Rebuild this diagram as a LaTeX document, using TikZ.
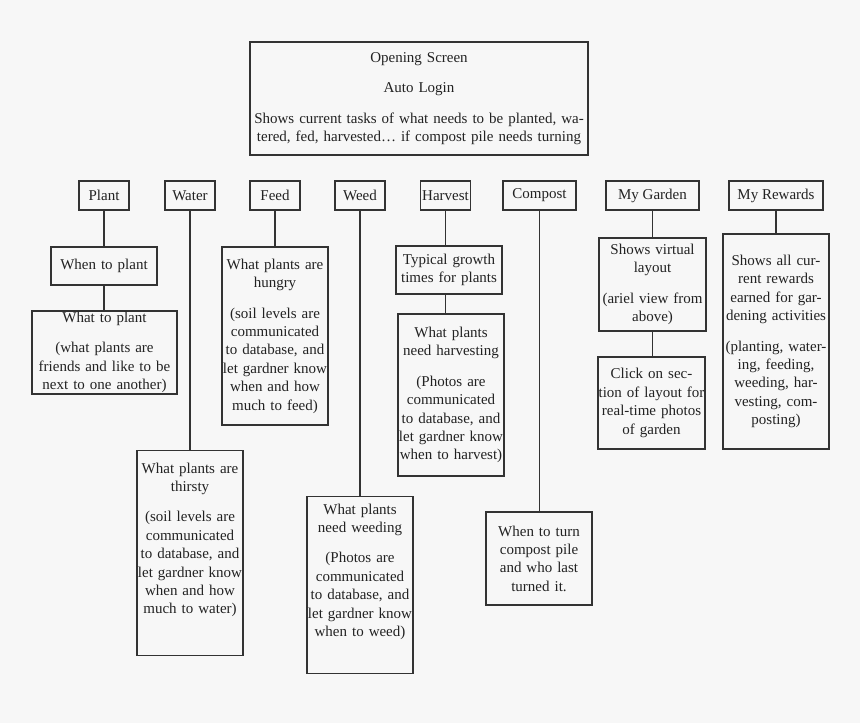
\documentclass[tikz,border=0pt]{standalone}
\usepackage{fontspec}
\setmainfont{Liberation Serif}
\definecolor{bgcol}{HTML}{F7F7F7}
\definecolor{linecol}{HTML}{333333}
\definecolor{textcol}{HTML}{222222}

\begin{document}
\begin{tikzpicture}[x=1pt,y=-1pt,
		every node/.style={font=\fontsize{15}{18.4}\selectfont, text=textcol},
		tab/.style={draw=linecol, line width=1.3pt,
			minimum width=50pt, minimum height=29pt, inner xsep=1pt},
		card/.style={draw=linecol, line width=1.3pt, align=center,
			text width=114pt, inner xsep=-4pt, inner ysep=3pt},
		link/.style={draw=linecol, line width=1.3pt}]

		\fill[bgcol] (0,0) rectangle (860,723);

		% opening screen
		\node[card, text width=346pt, minimum height=113pt] (open) at (419,98.5)
			{Opening Screen\\[12pt]
			 Auto Login\\[12pt]
			 Shows current tasks of what needs to be planted, wa-\\
			 tered, fed, harvested\ldots{} if compost pile needs turning};

		% tabs
		\node[tab] (plant) at (104,195.5) {Plant};
		\node[tab] (water) at (190,195.5) {Water};
		\node[tab] (feed) at (275,195.5) {Feed};
		\node[tab] (weed) at (360,195.5) {Weed};
		\node[tab] (harvest) at (445.5,195.5) {Harvest};
		\node[tab, minimum width=73pt] (compost) at (539.5,195.5) {Compost};
		\node[tab, minimum width=93pt] (garden) at (652.5,195.5) {My Garden};
		\node[tab, minimum width=94pt] (rewards) at (776,195.5) {My Rewards};

		% plant
		\node[card, minimum height=38pt] (whenplant) at (104,266) {When to plant};
		\node[card, text width=153pt, inner ysep=1pt, minimum height=83pt] (whatplant) at (104.5,352.5)
			{What to plant\\[12pt](what plants are\\friends and like to be\\next to one another)};

		% water
		\node[card, anchor=north, text height=19.5pt, text depth=179.5pt] (thirsty) at (190,450)
			{What plants are\\thirsty\\[12pt](soil levels are\\communicated\\to database, and\\let gardner know\\when and how\\much to water)};

		% feed
		\node[card, minimum height=178pt] (hungry) at (275,336)
			{What plants are\\hungry\\[12pt](soil levels are\\communicated\\to database, and\\let gardner know\\when and how\\much to feed)};

		% weed
		\node[card, anchor=north, text height=14.5pt, text depth=156.5pt] (weeding) at (360,496)
			{What plants\\need weeding\\[12pt](Photos are\\communicated\\to database, and\\let gardner know\\when to weed)};

		% harvest
		\node[card, minimum height=48pt] (growth) at (449,270)
			{Typical growth\\times for plants};
		\node[card, minimum height=162pt] (harvesting) at (451,395)
			{What plants\\need harvesting\\[12pt](Photos are\\communicated\\to database, and\\let gardner know\\when to harvest)};

		% compost
		\node[card, minimum height=93pt] (turning) at (539,558.5)
			{When to turn\\compost pile\\and who last\\turned it.};

		% my garden
		\node[card, text width=115pt, minimum height=93pt] (layout) at (652.5,284.5)
			{Shows virtual\\layout\\[12pt](ariel view from\\above)};
		\node[card, text width=115pt, minimum height=92pt] (photos) at (651.5,403)
			{Click on sec-\\tion of layout for\\real-time photos\\of garden};

		% my rewards
		\node[card, minimum height=215pt] (earned) at (776,341.5)
			{Shows all cur-\\rent rewards\\earned for gar-\\dening activities\\[12pt](planting, water-\\ing, feeding,\\weeding, har-\\vesting, com-\\posting)};

		\draw[link] (plant.south) -- (whenplant.north);
		\draw[link] (whenplant.south) -- (whenplant.south |- whatplant.north);
		\draw[link] (water.south) -- (thirsty.north);
		\draw[link] (feed.south) -- (hungry.north);
		\draw[link] (weed.south) -- (weeding.north);
		\draw[link] (harvest.south) -- (harvest.south |- growth.north);
		\draw[link] (harvest.south |- growth.south) -- (harvest.south |- harvesting.north);
		\draw[link] (compost.south) -- (compost.south |- turning.north);
		\draw[link] (garden.south) -- (layout.north);
		\draw[link] (garden.south |- layout.south) -- (garden.south |- photos.north);
		\draw[link] (rewards.south) -- (earned.north);

	\end{tikzpicture}
\end{document}
